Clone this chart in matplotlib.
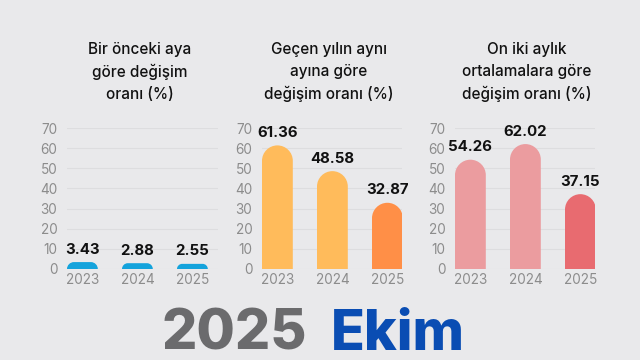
import matplotlib
matplotlib.use("Agg")
import matplotlib.pyplot as plt
from matplotlib.path import Path
from matplotlib.patches import PathPatch

# Data
YEARS = ["2023", "2024", "2025"]
MONTHLY = [3.43, 2.88, 2.55]
ANNUAL = [61.36, 48.58, 32.87]
TWELVE_MONTH = [54.26, 62.02, 37.15]
TITLES = [
    "Bir önceki aya\ngöre değişim\noranı (%)",
    "Geçen yılın aynı\nayına göre\ndeğişim oranı (%)",
    "On iki aylık\nortalamalara göre\ndeğişim oranı (%)",
]
Y_TICKS = [0, 10, 20, 30, 40, 50, 60, 70]

# Styling
FONT = ["Inter", "DejaVu Sans"]
BG = "#e9e9eb"
GRID = "#dddddf"
TICK_COLOR = "#8c8c8c"
BAR_COLORS = [
    ["#14a3dc", "#14a3dc", "#14a3dc"],
    ["#ffbb5b", "#ffbb5b", "#ff8f47"],
    ["#eb9c9f", "#eb9c9f", "#e86b70"],
]
W, H = 640, 360
BAR_W = 0.56

# panel geometry in pixels: left, right of axes
PANELS_PX = [(67, 218), (262, 402), (455, 595)]
TITLE_X_PX = [140, 329, 527]
Y0_PX, Y70_PX = 269, 128


def rounded_bar(ax, x, h, width, color):
    """Bar with rounded top corners, radius fixed in pixels."""
    pos = ax.get_position()
    x0l, x1l = ax.get_xlim()
    y0l, y1l = ax.get_ylim()
    sx = pos.width * W / (x1l - x0l)
    sy = pos.height * H / (y1l - y0l)
    r_px = min(width * sx / 2, h * sy)
    rx, ry = r_px / sx, r_px / sy
    k = 0.5523
    xl, xr = x - width / 2, x + width / 2
    verts = [
        (xl, 0), (xl, h - ry),
        (xl, h - ry + k * ry), (xl + rx - k * rx, h), (xl + rx, h),
        (xr - rx, h),
        (xr - rx + k * rx, h), (xr, h - ry + k * ry), (xr, h - ry),
        (xr, 0), (xl, 0),
    ]
    codes = [Path.MOVETO, Path.LINETO,
             Path.CURVE4, Path.CURVE4, Path.CURVE4,
             Path.LINETO,
             Path.CURVE4, Path.CURVE4, Path.CURVE4,
             Path.LINETO, Path.CLOSEPOLY]
    ax.add_patch(PathPatch(Path(verts, codes), facecolor=color,
                           edgecolor="none", zorder=3))


fig = plt.figure(figsize=(W / 100, H / 100), dpi=100)
fig.patch.set_facecolor(BG)

series = [MONTHLY, ANNUAL, TWELVE_MONTH]
xs = list(range(len(YEARS)))
bottom = (H - Y0_PX) / H
height = (Y0_PX - Y70_PX) / H

for i, values in enumerate(series):
    left_px, right_px = PANELS_PX[i]
    ax = fig.add_axes([left_px / W, bottom, (right_px - left_px) / W, height])
    ax.set_facecolor(BG)
    # first bar's left edge sits on the axes' left edge
    unit_px = 55.0
    xmin = -BAR_W / 2
    xmax = xmin + (right_px - left_px) / unit_px
    ax.set_xlim(xmin, xmax)
    ax.set_ylim(0, 70)
    for s in ax.spines.values():
        s.set_visible(False)
    ax.set_yticks(Y_TICKS)
    ax.set_yticklabels([str(t) for t in Y_TICKS], fontsize=9.8,
                       color=TICK_COLOR, family=FONT)
    ax.set_xticks(xs)
    ax.set_xticklabels(YEARS, fontsize=9.8, color=TICK_COLOR, family=FONT)
    ax.tick_params(axis="y", length=0, pad=7)
    ax.tick_params(axis="x", length=0, pad=3)
    ax.grid(axis="y", color=GRID, linewidth=0.8, zorder=0)
    ax.set_axisbelow(True)

    for x, v, c in zip(xs, values, BAR_COLORS[i]):
        rounded_bar(ax, x, v, BAR_W, c)
        ax.annotate(f"{v:.2f}", (x, v), xytext=(0, 4),
                    textcoords="offset points", ha="center", va="bottom",
                    fontsize=10.8, fontweight="bold", color="#111111",
                    family=FONT, annotation_clip=False, zorder=4)

    fig.text(TITLE_X_PX[i] / W, 1 - 72 / H, TITLES[i], ha="center",
             va="center", fontsize=11, fontweight="medium", color="#111111",
             family=FONT, linespacing=1.55)

# Footer
fig.text(307 / W, 10 / H, "2025", ha="right", va="baseline", fontsize=40,
         fontweight="heavy", color="#6b6b6d", family=FONT)
fig.text(331 / W, 10 / H, "Ekim", ha="left", va="baseline", fontsize=40,
         fontweight="heavy", color="#0a4db3", family=FONT)

fig.savefig("out.png", dpi=100, facecolor=BG)
